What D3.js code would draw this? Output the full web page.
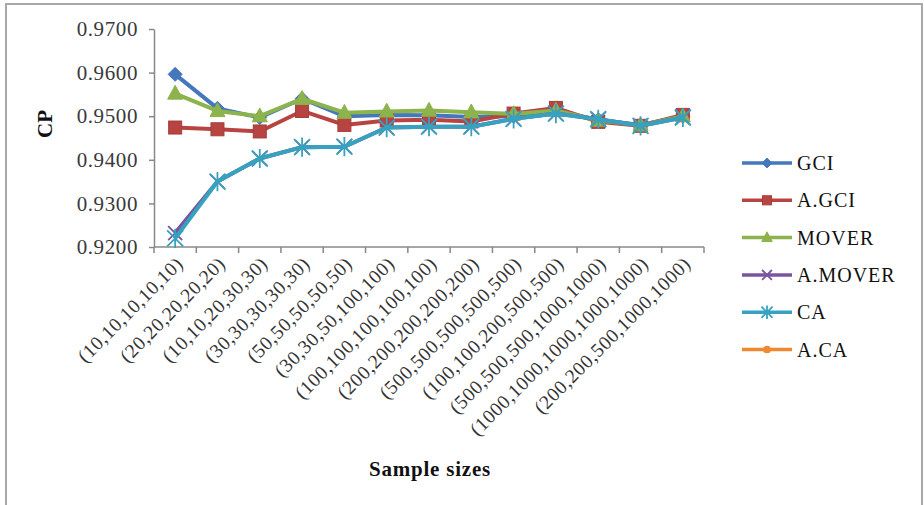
<!DOCTYPE html>
<html><head><meta charset="utf-8">
<script src="https://cdn.jsdelivr.net/npm/d3@7"></script>
<style>
html,body{margin:0;padding:0;background:#fff;}
svg{display:block;}
text{font-family:"Liberation Serif","Times New Roman",serif;}
</style></head>
<body><svg id="chart" width="924" height="505"></svg>
<script>
const categories = ["(10,10,10,10,10)","(20,20,20,20,20)","(10,10,20,30,30)","(30,30,30,30,30)","(50,50,50,50,50)","(30,30,50,100,100)","(100,100,100,100,100)","(200,200,200,200,200)","(500,500,500,500,500)","(100,100,200,500,500)","(500,500,500,1000,1000)","(1000,1000,1000,1000,1000)","(200,200,500,1000,1000)"];
const seriesNames = ["GCI","A.GCI","MOVER","A.MOVER","CA","A.CA"];
const gci    = [0.9596,0.9518,0.9497,0.9540,0.9500,0.9503,0.9502,0.9498,0.9500,0.9512,0.9492,0.9480,0.9500];
const aGci   = [0.9474,0.9470,0.9465,0.9512,0.9480,0.9490,0.9492,0.9488,0.9506,0.9519,0.9487,0.9478,0.9503];
const mover  = [0.9552,0.9512,0.9500,0.9540,0.9508,0.9511,0.9513,0.9509,0.9505,0.9513,0.9490,0.9479,0.9500];
const aMover = [0.9232,0.9350,0.9403,0.9429,0.9430,0.9474,0.9476,0.9476,0.9494,0.9506,0.9493,0.9478,0.9497];
const ca     = [0.9220,0.9350,0.9403,0.9429,0.9430,0.9474,0.9476,0.9476,0.9494,0.9506,0.9493,0.9478,0.9497];
const aCa    = [null,null,null,null,null,null,null,null,null,null,null,null,null];
const yTicks = [0.92,0.93,0.94,0.95,0.96,0.97];
const yTitle = "CP";
const xTitle = "Sample sizes";

const colors = ["#4477BB","#B84442","#8DB34C","#7A559E","#37A2BF","#EE8833"];
const markers = ["diamond","square","triangle","x","asterisk","circle"];
const allSeries = [gci,aGci,mover,aMover,ca,aCa];

const svg = d3.select("#chart");
svg.append("rect").attr("x",6).attr("y",4).attr("width",916).attr("height",530)
  .attr("fill","#fff").attr("stroke","#a8a8a8").attr("stroke-width",2);

const pLeft=154, pRight=704, pTop=29, pBottom=247;
const x = d3.scaleBand().domain(categories).range([pLeft,pRight]);
const y = d3.scaleLinear().domain([0.92,0.97]).range([pBottom,pTop]);
const cx = c => x(c)+x.bandwidth()/2;

const yAxis = svg.append("g").attr("transform",`translate(${pLeft},0)`)
  .call(d3.axisLeft(y).tickValues(yTicks).tickFormat(d3.format(".4f")).tickSize(5).tickSizeOuter(0).tickPadding(11));
yAxis.select(".domain").attr("stroke","#888").attr("stroke-width",1.5);
yAxis.selectAll(".tick line").attr("stroke","#888").attr("stroke-width",1.5);
yAxis.selectAll(".tick text").attr("font-family","Liberation Serif").attr("font-size",21)
  .attr("letter-spacing",0.6).attr("fill","#3a3a3a");

const xg = svg.append("g");
xg.append("line").attr("x1",pLeft).attr("x2",pRight).attr("y1",pBottom).attr("y2",pBottom)
  .attr("stroke","#888").attr("stroke-width",1.5);
const bounds = d3.range(categories.length+1).map(i=>x.range()[0]+i*x.step());
xg.selectAll("line.bt").data(bounds).join("line").attr("class","bt")
  .attr("x1",d=>d).attr("x2",d=>d).attr("y1",pBottom).attr("y2",pBottom+6)
  .attr("stroke","#888").attr("stroke-width",1.5);
xg.selectAll("text.cat").data(categories).join("text").attr("class","cat")
  .attr("transform",d=>`translate(${cx(d)+9},${pBottom+18}) rotate(-45)`)
  .attr("text-anchor","end").attr("font-size",19.5).attr("letter-spacing",0.6)
  .attr("fill","#333").text(d=>d);

svg.append("text").attr("transform","translate(52,124) rotate(-90)")
  .attr("text-anchor","middle").attr("font-size",21).attr("font-weight","bold").attr("fill","#111").text(yTitle);
svg.append("text").attr("x",430).attr("y",476).attr("text-anchor","middle")
  .attr("font-size",21).attr("font-weight","bold").attr("letter-spacing",0.8).attr("fill","#111").text(xTitle);

function drawMarker(g, type, color, s){
  if(type==="diamond"){
    g.append("path").attr("d",`M0,${-s}L${s},0L0,${s}L${-s},0Z`).attr("fill",color).attr("stroke",color);
  } else if(type==="square"){
    g.append("rect").attr("x",-s).attr("y",-s).attr("width",2*s).attr("height",2*s)
      .attr("fill",color).attr("stroke",d3.color(color).darker(0.3)).attr("stroke-width",1);
  } else if(type==="triangle"){
    g.append("path").attr("d",`M0,${-s*1.1}L${s},${s*0.75}L${-s},${s*0.75}Z`).attr("fill",color).attr("stroke",color);
  } else if(type==="x"){
    g.append("path").attr("d",`M${-s},${-s}L${s},${s}M${-s},${s}L${s},${-s}`).attr("stroke",color).attr("stroke-width",1.8).attr("fill","none");
  } else if(type==="asterisk"){
    g.append("path").attr("d",`M${-s},${-s}L${s},${s}M${-s},${s}L${s},${-s}M0,${-s*1.2}L0,${s*1.2}`).attr("stroke",color).attr("stroke-width",1.8).attr("fill","none");
  } else if(type==="circle"){
    g.append("circle").attr("r",s).attr("fill",color);
  }
}
const msize = {diamond:7,square:6.5,triangle:7.5,x:7,asterisk:8,circle:5.5};

allSeries.forEach((vals,si)=>{
  const pts = categories.map((c,i)=>({c,v:vals[i]}));
  const line = d3.line().defined(d=>d.v!=null).x(d=>cx(d.c)).y(d=>y(d.v));
  svg.append("path").datum(pts).attr("d",line).attr("fill","none")
    .attr("stroke",colors[si]).attr("stroke-width",4).attr("stroke-linejoin","round");
  pts.filter(d=>d.v!=null).forEach(d=>{
    const g = svg.append("g").attr("transform",`translate(${cx(d.c)},${y(d.v)})`);
    drawMarker(g, markers[si], colors[si], msize[markers[si]]);
  });
});

const lg = svg.append("g");
seriesNames.forEach((n,i)=>{
  const yy = 163 + i*37.3;
  lg.append("line").attr("x1",742).attr("x2",792).attr("y1",yy).attr("y2",yy)
    .attr("stroke",colors[i]).attr("stroke-width",3.5);
  const g = lg.append("g").attr("transform",`translate(767,${yy})`);
  drawMarker(g, markers[i], colors[i], msize[markers[i]]*0.7);
  lg.append("text").attr("x",797).attr("y",yy+7).attr("font-size",20).attr("letter-spacing",1)
    .attr("fill","#111").text(n);
});
</script></body></html>
